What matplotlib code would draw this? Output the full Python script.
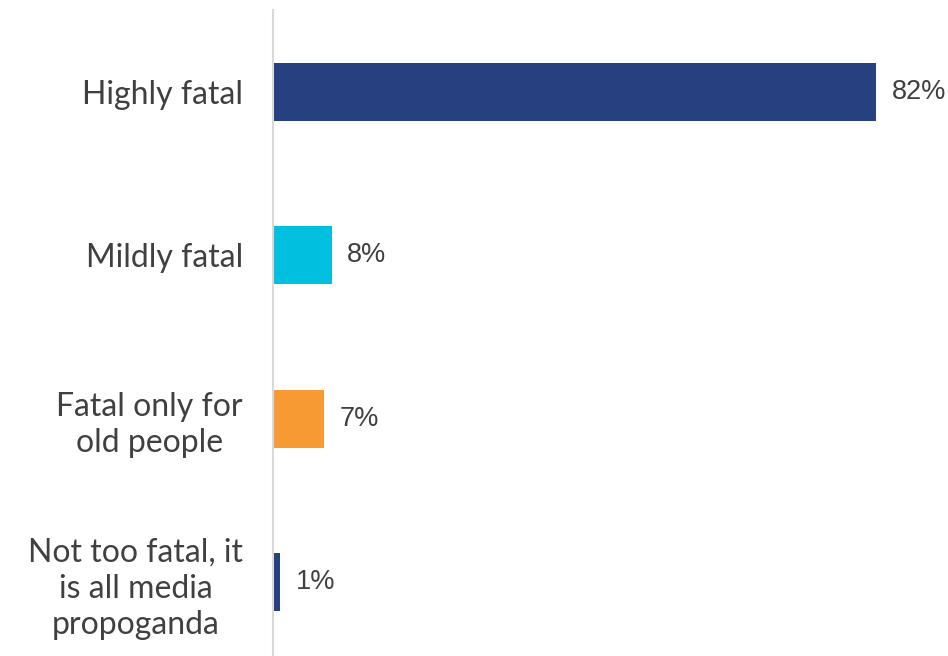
import matplotlib
matplotlib.use("Agg")
import matplotlib.pyplot as plt

categories = ["Highly fatal", "Mildly fatal", "Fatal only for\nold people",
              "Not too fatal, it\nis all media\npropoganda"]
values = [82, 8, 7, 1]
colors = ["#27407f", "#00bfdf", "#f79a34", "#27407f"]

fig = plt.figure(figsize=(9.48, 6.56), dpi=100)
ax = fig.add_axes([273 / 948, 0, (948 - 273) / 948, 646 / 656])

y = range(len(categories))
ax.barh(y, values, height=0.355, color=colors)

for i, v in enumerate(values):
    ax.text(v + 2.1, i, f"{v}%", va="center", ha="left", fontsize=19.5,
            color="#404040", family="Liberation Sans")

ax.set_xlim(0, 91.8)
ax.set_ylim(3.45, -0.5)
ax.set_yticks(list(y))
ax.set_yticklabels(categories, fontsize=23, color="#404040", family="Lato",
                   linespacing=1.27, multialignment="center")
ax.tick_params(axis="y", length=0, pad=21.6)
ax.set_xticks([])
for s in ["top", "right", "bottom"]:
    ax.spines[s].set_visible(False)
ax.spines["left"].set_color("#d9d9d9")
ax.spines["left"].set_linewidth(1.5)

fig.savefig("out.png", dpi=100)
